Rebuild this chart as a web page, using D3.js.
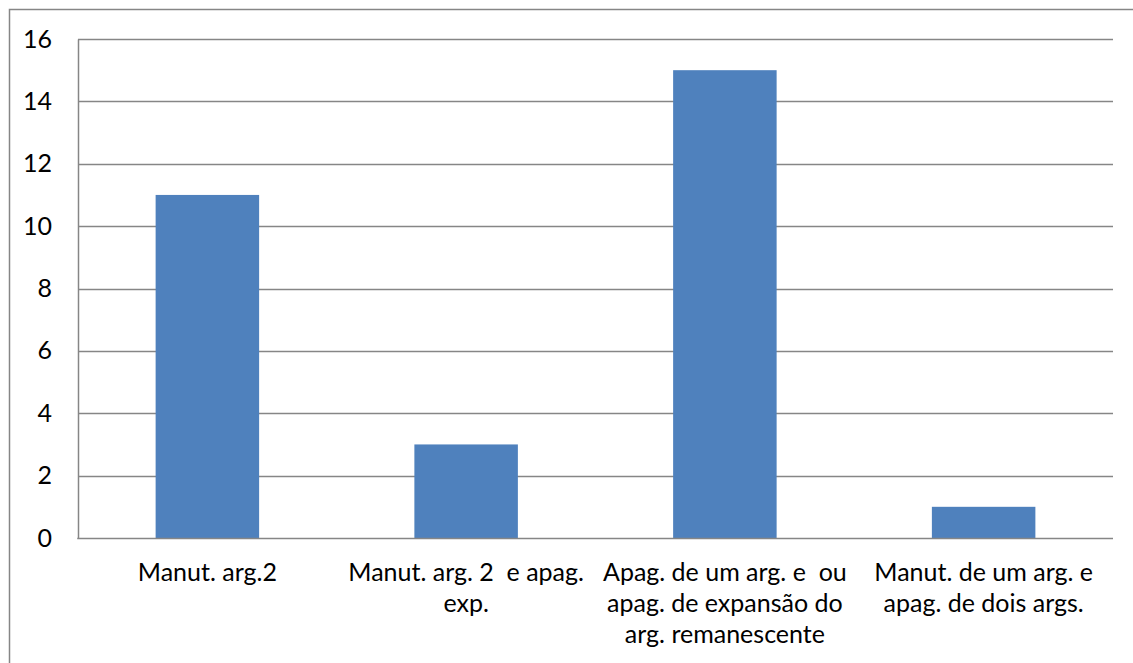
<!DOCTYPE html>
<html>
<head>
<meta charset="utf-8">
<script src="https://cdn.jsdelivr.net/npm/d3@7"></script>
<style>
  html, body { margin: 0; padding: 0; background: #fff; }
  svg text { font-family: Lato, "Open Sans", sans-serif; fill: #000; }
</style>
</head>
<body>
<svg id="chart" width="1133" height="663"></svg>
<script>
// Category labels, one entry per line of the wrapped label
const categories = [
  ["Manut. arg.2"],
  ["Manut. arg. 2  e apag.", "exp."],
  ["Apag. de um arg. e  ou", "apag. de expansão do", "arg. remanescente"],
  ["Manut. de um arg. e", "apag. de dois args."]
];
const values = [11, 3, 15, 1];
const yTicks = [0, 2, 4, 6, 8, 10, 12, 14, 16];

const svg = d3.select("#chart");
const W = 1133, H = 663;
const plot = { left: 78, right: 1113, top: 39, bottom: 538 };
const fontSize = 25;

// outer chart frame (extends past the right and bottom edges)
svg.append("rect")
  .attr("x", 9.5).attr("y", 9.5)
  .attr("width", W + 20).attr("height", H + 20)
  .attr("fill", "#fff")
  .attr("stroke", "#868686").attr("stroke-width", 1.5);

const x = d3.scaleBand()
  .domain(d3.range(categories.length))
  .range([plot.left, plot.right])
  .paddingInner(0.6).paddingOuter(0.3);

const y = d3.scaleLinear().domain([0, 16]).range([plot.bottom, plot.top]);

// horizontal gridlines
svg.append("g")
  .selectAll("line")
  .data(yTicks.filter(d => d > 0))
  .join("line")
  .attr("x1", plot.left).attr("x2", plot.right)
  .attr("y1", d => Math.round(y(d)) + 0.5).attr("y2", d => Math.round(y(d)) + 0.5)
  .attr("stroke", "#868686").attr("stroke-width", 1.5);

// bars
svg.append("g")
  .selectAll("rect")
  .data(values)
  .join("rect")
  .attr("x", (d, i) => x(i))
  .attr("width", x.bandwidth())
  .attr("y", d => y(d))
  .attr("height", d => y(0) - y(d))
  .attr("fill", "#4F81BD");

// value axis
const yAxis = svg.append("g")
  .attr("transform", `translate(${plot.left},0)`)
  .call(d3.axisLeft(y).tickValues(yTicks).tickSize(0).tickPadding(26));
yAxis.select(".domain").attr("stroke", "#868686").attr("stroke-width", 1.5);
yAxis.selectAll("text")
  .attr("font-size", fontSize)
  .attr("font-family", "Lato, 'Open Sans', sans-serif")
  .attr("fill", "#000");

// category axis baseline
svg.append("line")
  .attr("x1", plot.left - 0.75).attr("x2", plot.right)
  .attr("y1", plot.bottom + 0.5).attr("y2", plot.bottom + 0.5)
  .attr("stroke", "#868686").attr("stroke-width", 1.5);

// category labels
const labelFull = d3.scaleBand()
  .domain(d3.range(categories.length))
  .range([plot.left, plot.right]);
const lab = svg.append("g")
  .selectAll("text")
  .data(categories)
  .join("text")
  .attr("text-anchor", "middle")
  .attr("font-size", fontSize)
  .attr("xml:space", "preserve")
  .style("white-space", "pre")
  .attr("transform", (d, i) => `translate(${labelFull(i) + labelFull.bandwidth() / 2},581)`);
lab.selectAll("tspan")
  .data(d => d)
  .join("tspan")
  .attr("x", 0)
  .attr("y", (d, j) => j * 31)
  .text(d => d);
</script>
</body>
</html>
